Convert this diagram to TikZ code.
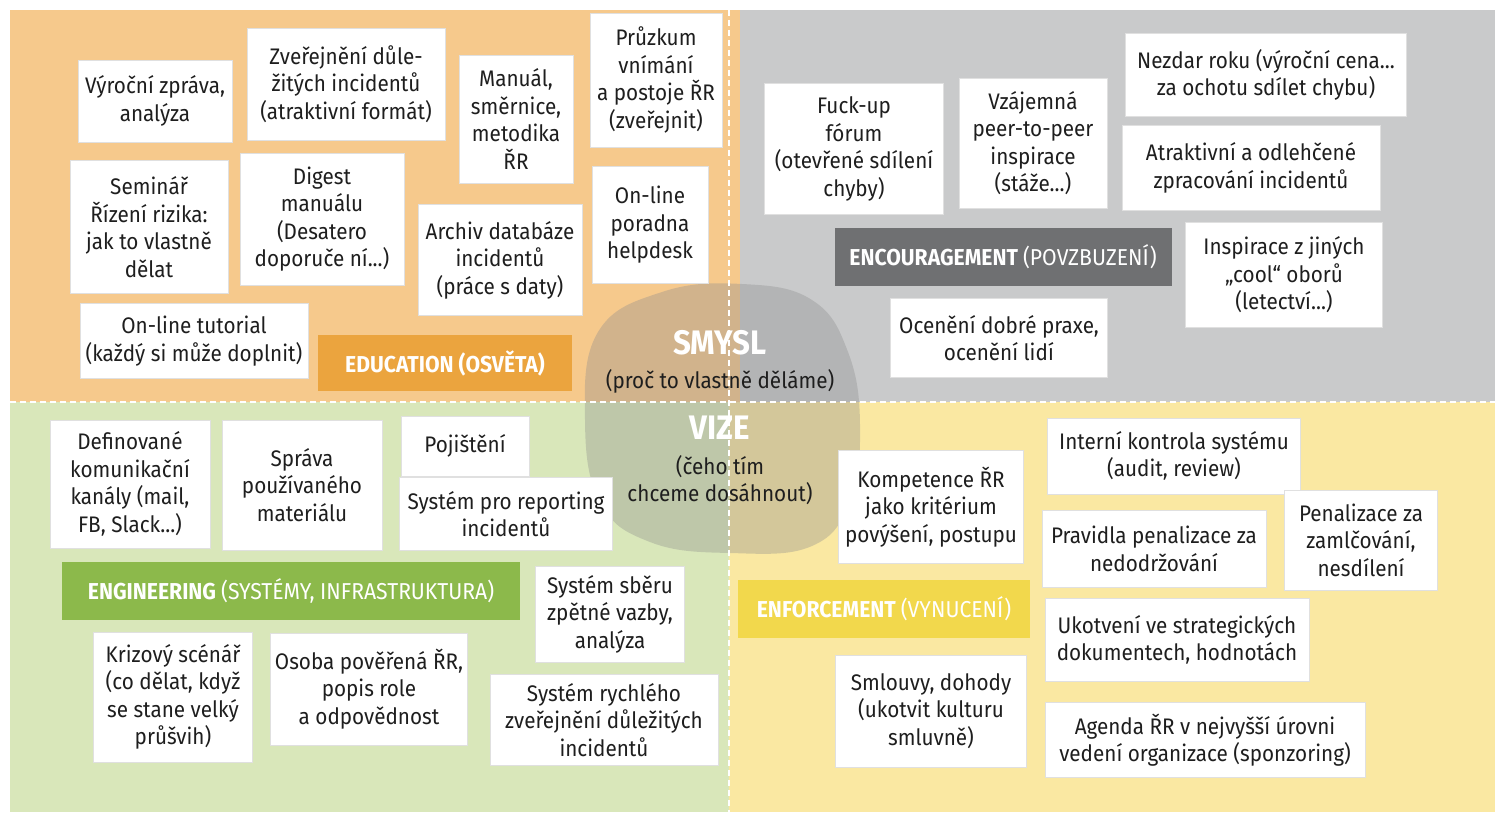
\documentclass[tikz,border=0pt]{standalone}
\usepackage{fontspec}
\setmainfont{Fira Sans}[FakeStretch=0.92]
\usepackage{xcolor}

\definecolor{orangebg}{HTML}{F6C98C}
\definecolor{graybg}{HTML}{C9CACB}
\definecolor{greenbg}{HTML}{D9E7BA}
\definecolor{yellowbg}{HTML}{FAE8A2}
\definecolor{educol}{HTML}{EBA43E}
\definecolor{enccol}{HTML}{6F7072}
\definecolor{engcol}{HTML}{8CB94B}
\definecolor{enfcol}{HTML}{F2D84C}
\definecolor{ink}{HTML}{1E1E1E}

\tikzset{
	card/.style={fill=white, draw=black!12, inner sep=0pt, align=center, text=ink,
		font=\fontsize{22.5}{27.5}\selectfont},
	banner/.style={inner sep=0pt, text=white, font=\fontsize{23}{25}\selectfont},
	middle/.style={text=ink, align=center, font=\fontsize{22.5}{27.5}\selectfont}
}

\begin{document}
\begin{tikzpicture}[x=1pt,y=-1pt]
			\useasboundingbox (0,0) rectangle (1495,816);
			\fill[white] (0,0) rectangle (1495,816);
			% quadrants
			\fill[orangebg] (10,10) rectangle (740,402);
			\fill[graybg] (740,10) rectangle (1495,402);
			\fill[greenbg] (10,402) rectangle (729,812);
			\fill[yellowbg] (729,402) rectangle (1495,812);
			\fill[black!45, opacity=0.35] plot[smooth cycle, tension=0.7] coordinates
				{(598,332) (662,292) (742,284) (812,300) (848,352) (860,425) (850,500) (812,546) (730,553) (650,542) (600,502) (585,420)};
			\draw[white, dashed, line width=1.5pt, dash pattern=on 6pt off 4pt] (10,402) -- (1495,402);
			\draw[white, dashed, line width=1.5pt, dash pattern=on 6pt off 4pt] (729,10) -- (729,812);

			% education
			\node[banner, fill=educol, minimum width=254, minimum height=56] (education) at (445,363) {\bfseries EDUCATION (OSVĚTA)};
			\node[card, minimum width=154, minimum height=82] (vyrocni) at (155,101) {Výroční zpráva,\\analýza};
			\node[card, minimum width=198, minimum height=112] (zverejneni) at (346,84) {Zveřejnění důle-\\žitých incidentů\\(atraktivní formát)};
			\node[card, minimum width=114, minimum height=128] (manual) at (516,119) {Manuál,\\směrnice,\\metodika\\ŘR};
			\node[card, minimum width=132, minimum height=134] (pruzkum) at (656,80) {Průzkum\\vnímání\\a postoje ŘR\\(zveřejnit)};
			\node[card, minimum width=158, minimum height=133] (seminar) at (149,227) {Seminář\\Řízení rizika:\\jak to vlastně\\dělat};
			\node[card, minimum width=164, minimum height=132] (digest) at (322,219) {Digest\\manuálu\\(Desatero\\doporuče ní...)};
			\node[card, minimum width=164, minimum height=111] (archiv) at (500,260) {Archiv databáze\\incidentů\\(práce s daty)};
			\node[card, minimum width=116, minimum height=117] (poradna) at (650,225) {On-line\\poradna\\helpdesk};
			\node[card, minimum width=228, minimum height=75] (tutorial) at (194,341) {On-line tutorial\\(každý si může doplnit)};

			% encouragement
			\node[banner, fill=enccol, minimum width=337, minimum height=58] (encouragement) at (1003,257) {\bfseries ENCOURAGEMENT \mdseries(POVZBUZENÍ)};
			\node[card, minimum width=179, minimum height=131] (fuckup) at (854,149) {Fuck-up\\fórum\\(otevřené sdílení\\chyby)};
			\node[card, minimum width=148, minimum height=130] (vzajemna) at (1033,143) {Vzájemná\\peer-to-peer\\inspirace\\(stáže...)};
			\node[card, minimum width=281, minimum height=83] (nezdar) at (1266,75) {Nezdar roku (výroční cena...\\za ochotu sdílet chybu)};
			\node[card, minimum width=258, minimum height=85] (atraktivni) at (1251,168) {Atraktivní a odlehčené\\zpracování incidentů};
			\node[card, minimum width=197, minimum height=105] (inspirace) at (1284,275) {Inspirace z jiných\\„cool“ oborů\\(letectví...)};
			\node[card, minimum width=217, minimum height=79] (oceneni) at (999,338) {Ocenění dobré praxe,\\ocenění lidí};

			% engineering
			\node[banner, fill=engcol, minimum width=458, minimum height=58] (engineering) at (291,591) {\bfseries ENGINEERING \mdseries(SYSTÉMY, INFRASTRUKTURA)};
			\node[card, minimum width=160, minimum height=128] (kanaly) at (130,484) {Definované\\komunikační\\kanály (mail,\\FB, Slack...)};
			\node[card, minimum width=160, minimum height=130] (sprava) at (302,485) {Správa\\používaného\\materiálu};
			\node[card, minimum width=128, minimum height=60] (pojisteni) at (465,446) {Pojištění};
			\node[card, minimum width=213, minimum height=73] (reporting) at (506,514) {Systém pro reporting\\incidentů};
			\node[card, minimum width=149, minimum height=96] (sberu) at (610,614) {Systém sběru\\zpětné vazby,\\analýza};
			\node[card, minimum width=159, minimum height=130] (krizovy) at (173,697) {Krizový scénář\\(co dělat, když\\se stane velký\\průšvih)};
			\node[card, minimum width=197, minimum height=112] (osoba) at (369,689) {Osoba pověřená ŘR,\\popis role\\a odpovědnost};
			\node[card, minimum width=228, minimum height=91] (rychleho) at (604,720) {Systém rychlého\\zveřejnění důležitých\\incidentů};

			% enforcement
			\node[banner, fill=enfcol, minimum width=292, minimum height=58] (enforcement) at (884,609) {\bfseries ENFORCEMENT \mdseries(VYNUCENÍ)};
			\node[card, minimum width=185, minimum height=113] (kompetence) at (931,507) {Kompetence ŘR\\jako kritérium\\povýšení, postupu};
			\node[card, minimum width=253, minimum height=76] (interni) at (1174,456) {Interní kontrola systému\\(audit, review)};
			\node[card, minimum width=224, minimum height=77] (pravidla) at (1154,549) {Pravidla penalizace za\\nedodržování};
			\node[card, minimum width=153, minimum height=100] (penalizace) at (1361,540) {Penalizace za\\zamlčování,\\nesdílení};
			\node[card, minimum width=264, minimum height=83] (ukotveni) at (1177,640) {Ukotvení ve strategických\\dokumentech, hodnotách};
			\node[card, minimum width=191, minimum height=112] (smlouvy) at (931,711) {Smlouvy, dohody\\(ukotvit kulturu\\smluvně)};
			\node[card, minimum width=320, minimum height=75] (agenda) at (1205,740) {Agenda ŘR v nejvyšší úrovni\\vedení organizace (sponzoring)};

			% centre
			\node[text=white, font=\fontsize{34}{38}\selectfont\bfseries] (smysl) at (720,343) {SMYSL};
			\node[middle] (proc) at (720,381) {(proč to vlastně děláme)};
			\node[text=white, font=\fontsize{34}{38}\selectfont\bfseries] (vize) at (720,428) {VIZE};
			\node[middle] (ceho) at (720,480) {(čeho tím\\chceme dosáhnout)};
		\end{tikzpicture}
\end{document}
